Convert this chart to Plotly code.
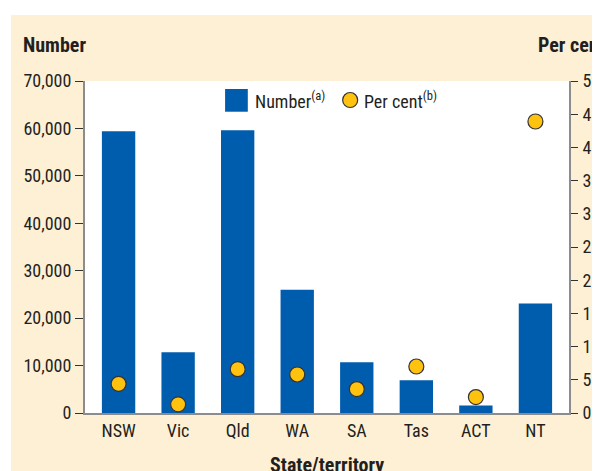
import plotly.graph_objects as go

states = ["NSW", "Vic", "Qld", "WA", "SA", "Tas", "ACT", "NT"]
number = [59400, 12800, 59600, 26000, 10700, 6900, 1600, 23100]
percent = [4.4, 1.3, 6.6, 5.8, 3.6, 7.0, 2.4, 43.9]

left_ticks = [0, 10000, 20000, 30000, 40000, 50000, 60000, 70000]
left_labels = ["0", "10,000", "20,000", "30,000", "40,000", "50,000", "60,000", "70,000"]
right_ticks = [0, 5, 10, 15, 20, 25, 30, 35, 40, 45, 50]

# page body has an 8px margin; the figure is laid out in page pixels minus that offset
OFF = 8
W, H = 600 - OFF, 471 - OFF
PLOT_L, PLOT_R, PLOT_T, PLOT_B = 85, 568.7, 81, 412.7   # page pixels of the plot area
L = PLOT_L - OFF
T = PLOT_T - OFF
R = W - (PLOT_R - OFF)
B = H - (PLOT_B - OFF)
PW = PLOT_R - PLOT_L
PH = PLOT_B - PLOT_T

def px(x):
    return (x - PLOT_L) / PW

def py(y):
    return (PLOT_B - y) / PH

FONT = "Roboto Condensed, DejaVu Sans Condensed, sans-serif"
TXT = "#231F20"
BAR = "#005DAE"
DOT = "#FFC20E"
BEIGE = "#FEF0D5"
AXIS = "#8C8C8C"

fig = go.Figure()
fig.add_trace(go.Bar(x=states, y=number, marker=dict(color=BAR, line=dict(width=0)),
                     name="Number", yaxis="y", showlegend=False))
fig.add_trace(go.Scatter(x=states, y=percent, mode="markers", name="Per cent", yaxis="y2",
                         marker=dict(size=15, color=DOT, line=dict(color="#333333", width=1.2)),
                         showlegend=False, cliponaxis=False))

shapes = [
    dict(type="rect", xref="paper", yref="paper", x0=px(11), x1=px(610), y0=py(480), y1=py(15),
         fillcolor=BEIGE, line=dict(width=0), layer="below"),
    dict(type="rect", xref="paper", yref="paper", x0=0, x1=1, y0=0, y1=1,
         fillcolor="white", line=dict(width=0), layer="below"),
    # legend symbols
    dict(type="rect", xref="paper", yref="paper", x0=px(225), x1=px(247.7), y0=py(111.7), y1=py(89),
         fillcolor=BAR, line=dict(width=0)),
    dict(type="circle", xref="paper", yref="paper", x0=px(342.5), x1=px(357.5), y0=py(107.5), y1=py(92.5),
         fillcolor=DOT, line=dict(color="#333333", width=1.2)),
]

annotations = [
    dict(text="<b>Number</b>", xref="paper", yref="paper", x=px(21.5), y=py(45), xanchor="left", yanchor="middle",
         showarrow=False, font=dict(size=20, color=TXT, family=FONT)),
    dict(text="<b>Per cent</b>", xref="paper", yref="paper", x=px(536), y=py(45), xanchor="left", yanchor="middle",
         showarrow=False, font=dict(size=20, color=TXT, family=FONT)),
    dict(text="<b>State/territory</b>", xref="paper", yref="paper", x=0.5, y=py(465), xanchor="center",
         yanchor="middle", showarrow=False, font=dict(size=20, color=TXT, family=FONT)),
    dict(text="Number<sup>(a)</sup>", xref="paper", yref="paper", x=px(253), y=py(100), xanchor="left",
         yanchor="middle", showarrow=False, font=dict(size=18, color=TXT, family=FONT)),
    dict(text="Per cent<sup>(b)</sup>", xref="paper", yref="paper", x=px(362), y=py(100), xanchor="left",
         yanchor="middle", showarrow=False, font=dict(size=18, color=TXT, family=FONT)),
]

fig.update_layout(
    width=W, height=H,
    margin=dict(l=L, r=R, t=T, b=B, pad=0, autoexpand=False),
    paper_bgcolor="white", plot_bgcolor="white",
    bargap=0.44,
    showlegend=False,
    font=dict(family=FONT, size=18, color=TXT),
    xaxis=dict(showline=True, linecolor=AXIS, linewidth=2, ticks="", showgrid=False, zeroline=False,
               automargin=False, tickfont=dict(size=18, color=TXT, family=FONT)),
    yaxis=dict(range=[0, 70000], tickvals=left_ticks, ticktext=left_labels, showline=True, linecolor=AXIS,
               linewidth=2, ticks="outside", ticklen=8, tickcolor="#333333", tickwidth=1.2, showgrid=False,
               zeroline=False, automargin=False, tickfont=dict(size=18, color=TXT, family=FONT)),
    yaxis2=dict(range=[0, 50], tickvals=right_ticks, overlaying="y", side="right", showline=True,
                linecolor=AXIS, linewidth=2, ticks="outside", ticklen=7, tickcolor="#333333", tickwidth=1.2,
                showgrid=False, zeroline=False, automargin=False, ticklabelstandoff=1,
                tickfont=dict(size=18, color=TXT, family=FONT)),
    shapes=shapes,
    annotations=annotations,
)

fig.write_html("out.html", config={"responsive": False})
